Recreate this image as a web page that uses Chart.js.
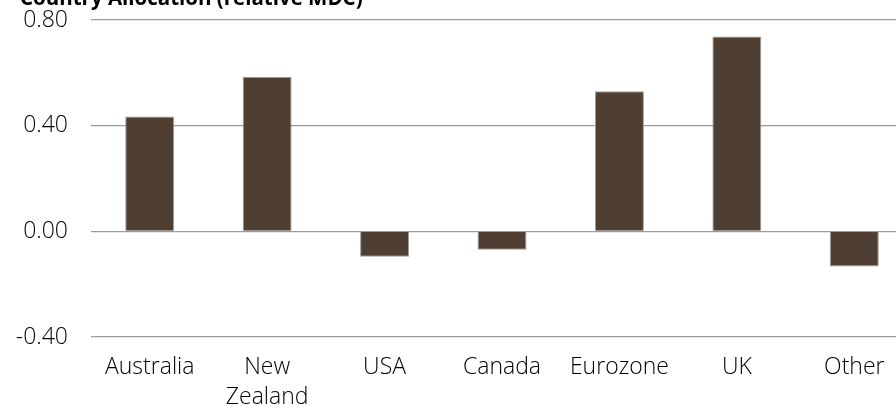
<!DOCTYPE html>
<html lang="en">
<head>
    <meta charset="UTF-8">
    <title>Country Allocation</title>
    <script src="https://cdn.jsdelivr.net/npm/chart.js@4"></script>
    <style>
        body { margin: 0; overflow: hidden; background: #fff; }
        #wrap { width: 913px; height: 406px; position: relative; }
    </style>
</head>
<body>
    <div id="wrap"><canvas id="allocChart"></canvas></div>
    <script>
        // data
        const categories = ['Australia', ['New', 'Zealand'], 'USA', 'Canada', 'Eurozone', 'UK', 'Other'];
        const allocation = [0.435, 0.585, -0.096, -0.07, 0.53, 0.738, -0.133];
        const yTicks = [-0.40, 0.00, 0.40, 0.80];
        const chartTitle = 'Country Allocation (relative MDC)';

        const fontFamily = '"Open Sans", "Noto Sans", sans-serif';

        // title sits half cut off above the plot
        const titlePlugin = {
            id: 'cutTitle',
            afterDraw(chart) {
                const c = chart.ctx;
                c.save();
                c.font = 'bold 20.5px ' + fontFamily;
                c.fillStyle = '#000';
                c.textBaseline = 'alphabetic';
                c.fillText(chartTitle, 20, 5);
                c.restore();
            }
        };

        new Chart(document.getElementById('allocChart'), {
            type: 'bar',
            data: {
                labels: categories,
                datasets: [{
                    data: allocation,
                    backgroundColor: '#4f3e32',
                    borderColor: '#a39b94',
                    borderWidth: 1,
                    categoryPercentage: 1,
                    barPercentage: 0.417
                }]
            },
            options: {
                responsive: true,
                maintainAspectRatio: false,
                animation: false,
                layout: { padding: { top: 20, left: 0, right: 0, bottom: 0 } },
                plugins: {
                    legend: { display: false },
                    tooltip: { enabled: false }
                },
                scales: {
                    x: {
                        grid: { display: false, drawTicks: false },
                        border: { display: false },
                        ticks: {
                            color: '#000',
                            padding: 16,
                            maxRotation: 0,
                            autoSkip: false,
                            font: { family: fontFamily, size: 23, weight: 300, lineHeight: 1.3 }
                        },
                        afterFit(scale) { scale.height = 69; }
                    },
                    y: {
                        min: yTicks[0],
                        max: yTicks[yTicks.length - 1],
                        afterBuildTicks(scale) { scale.ticks = yTicks.map(v => ({ value: v })); },
                        grid: { color: '#9a9a9a', lineWidth: 1.2, drawTicks: false },
                        border: { display: false },
                        ticks: {
                            color: '#000',
                            padding: 23,
                            font: { family: fontFamily, size: 23, weight: 300 },
                            callback: v => v.toFixed(2)
                        },
                        afterFit(scale) {
                            scale.width = 91;
                            scale.paddingTop = 0;
                            scale.paddingBottom = 0;
                        }
                    }
                }
            },
            plugins: [titlePlugin]
        });
    </script>
</body>
</html>
